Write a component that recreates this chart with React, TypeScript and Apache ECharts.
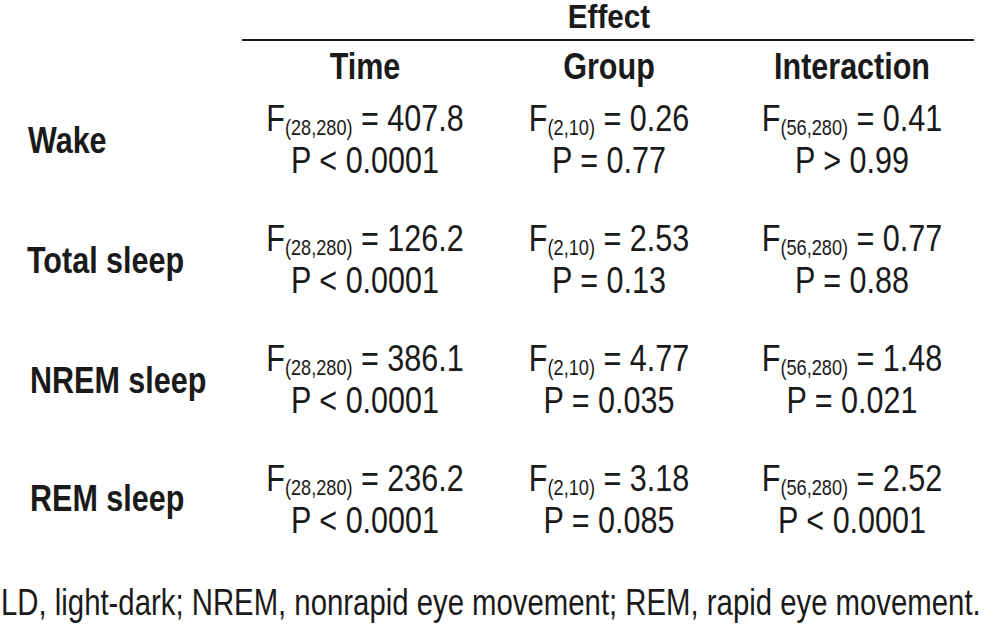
import React, { useEffect, useRef } from "react";
import * as echarts from "echarts";

const title = "Effect";
const effects = ["Time", "Group", "Interaction"];
const measures = ["Wake", "Total sleep", "NREM sleep", "REM sleep"];
const dfs = ["(28,280)", "(2,10)", "(56,280)"];
const timeF = ["407.8", "126.2", "386.1", "236.2"];
const timeP = ["< 0.0001", "< 0.0001", "< 0.0001", "< 0.0001"];
const groupF = ["0.26", "2.53", "4.77", "3.18"];
const groupP = ["= 0.77", "= 0.13", "= 0.035", "= 0.085"];
const interF = ["0.41", "0.77", "1.48", "2.52"];
const interP = ["> 0.99", "= 0.88", "= 0.021", "< 0.0001"];
const footnote = "LD, light-dark; NREM, nonrapid eye movement; REM, rapid eye movement.";

const FONT = "'Liberation Sans', Arial, sans-serif";
const SX = 0.825;
const INK = "#1a1a1a";

export default function App() {
  const ref = useRef<HTMLDivElement>(null);
  useEffect(() => {
    document.body.style.margin = "0";
    const chart = echarts.init(ref.current!, null, { renderer: "svg" });
    const colX = [365, 609, 852];
    const labelX = [28, 27, 30, 30];
    const rowF = [118, 238, 358, 478];
    const rowP = [160, 280, 400, 520];
    const rowL = [140, 260, 380, 498];
    const cols = [
      { f: timeF, p: timeP },
      { f: groupF, p: groupP },
      { f: interF, p: interP },
    ];
    const els: any[] = [];
    els.push({
      type: "text",
      x: 609,
      y: 17,
      scaleX: 0.9,
      style: { text: title, font: `bold 33px ${FONT}`, lineHeight: 30, fill: INK, align: "center", verticalAlign: "middle" },
    });
    els.push({
      type: "line",
      shape: { x1: 242, y1: 40, x2: 974, y2: 40 },
      style: { stroke: INK, lineWidth: 2 },
    });
    effects.forEach((e, i) => {
      els.push({
        type: "text",
        x: colX[i],
        y: 66,
        scaleX: SX,
        style: { text: e, font: `bold 37px ${FONT}`, fill: INK, align: "center", verticalAlign: "middle" },
      });
    });
    measures.forEach((m, r) => {
      els.push({
        type: "text",
        x: labelX[r],
        y: rowL[r],
        scaleX: SX,
        style: { text: m, font: `bold 37px ${FONT}`, fill: INK, align: "left", verticalAlign: "middle" },
      });
      cols.forEach((c, i) => {
        els.push({
          type: "text",
          x: colX[i],
          y: rowF[r],
          scaleX: SX,
          style: {
            text: `{m|F}{s|${dfs[i]}}{m| = ${c.f[r]}}`,
            align: "center",
            verticalAlign: "middle",
            rich: {
              m: { font: `37px ${FONT}`, fill: INK, lineHeight: 40, verticalAlign: "middle" },
              s: { font: `22px ${FONT}`, fill: INK, lineHeight: 21, verticalAlign: "bottom" },
            },
          },
        });
        els.push({
          type: "text",
          x: colX[i],
          y: rowP[r],
          scaleX: SX,
          style: { text: `P ${c.p[r]}`, font: `37px ${FONT}`, fill: INK, align: "center", verticalAlign: "middle" },
        });
      });
    });
    els.push({
      type: "text",
      x: 1,
      y: 602,
      scaleX: 0.815,
      style: { text: footnote, font: `36px ${FONT}`, lineHeight: 38, fill: INK, align: "left", verticalAlign: "middle" },
    });
    chart.setOption({ animation: false, backgroundColor: "#ffffff", graphic: { elements: els } });
    return () => chart.dispose();
  }, []);
  return <div ref={ref} style={{ width: 984, height: 626 }} />;
}
